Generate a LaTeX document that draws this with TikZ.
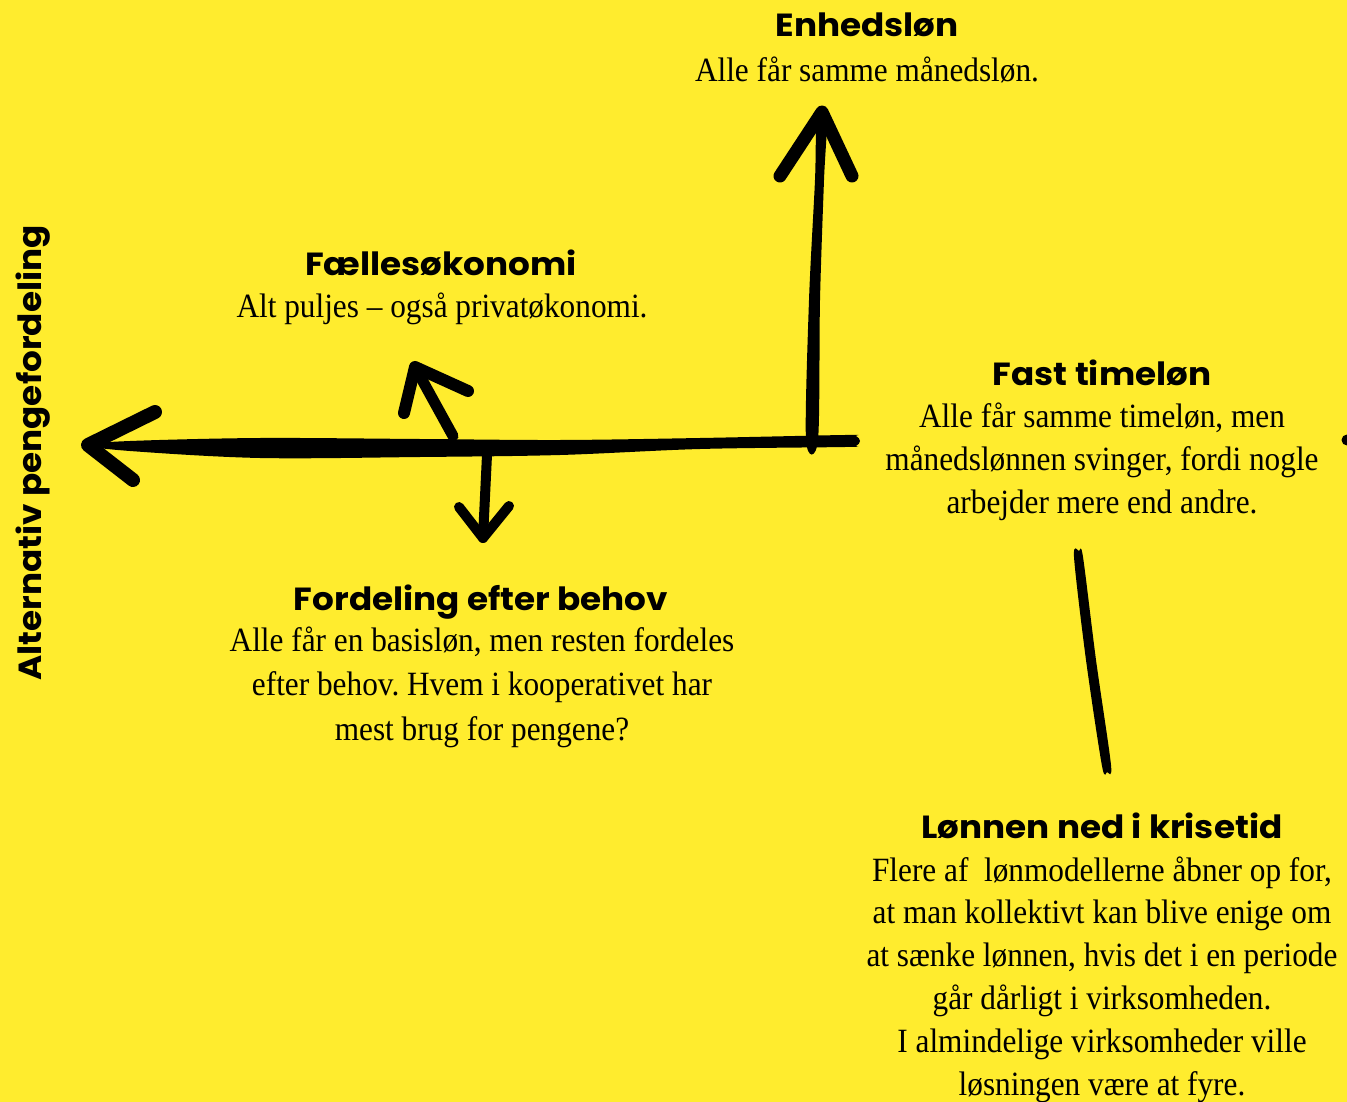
\documentclass[tikz,border=0pt]{standalone}
\usepackage{fontspec}
\newfontfamily\bodyfont{Liberation Serif}[FakeStretch=0.92]
\newfontfamily\headfont{Poppins}[FakeStretch=1.07]
\definecolor{bg}{RGB}{255,236,46}
\frenchspacing
\tikzset{
  head/.style={font=\headfont\bfseries\fontsize{32}{38}\selectfont, inner sep=0pt, anchor=base},
  body/.style={font=\bodyfont\fontsize{34}{42.8}\selectfont\frenchspacing, inner sep=0pt, anchor=base, align=center},
  brush/.style={line width=13pt, line cap=round, line join=round, black},
}
\begin{document}
\begin{tikzpicture}[x=1pt,y=-1pt]
\fill[bg] (0,0) rectangle (1347,1102);
\useasboundingbox (0,0) rectangle (1347,1102);

% texts (multi-line nodes are placed by the baseline of their last line)
\node[head] (h1) at (867,37) {Enhedsløn};
\node[body] (b1) at (867,82) {Alle får samme månedsløn.};
\node[head] (h2) at (441,276) {Fællesøkonomi};
\node[body] (b2) at (442,317) {Alt puljes – også privatøkonomi.};
\node[head] (h3) at (1102,385) {Fast timeløn};
\node[body] (b3) at (1102,513) {Alle får samme timeløn, men\\månedslønnen svinger, fordi nogle\\arbejder mere end andre.};
\node[head] (h4) at (481,610) {Fordeling efter behov};
\node[body, font=\bodyfont\fontsize{34}{44.5}\selectfont\frenchspacing] (b4) at (482,740) {Alle får en basisløn, men resten fordeles\\efter behov. Hvem i kooperativet har\\mest brug for pengene?};
\node[head] (h5) at (1102,838) {Lønnen ned i krisetid};
\node[body] (b5) at (1102,1095) {Flere af\ \ lønmodellerne åbner op for,\\at man kollektivt kan blive enige om\\at sænke lønnen, hvis det i en periode\\går dårligt i virksomheden.\\I almindelige virksomheder ville\\løsningen være at fyre.};
\node[head, font=\headfont\bfseries\fontsize{32}{38}\selectfont, anchor=center, rotate=90] (side) at (33,453) {Alternativ pengefordeling};

% coordinates of strokes
\coordinate (Ltip) at (88,445);
\coordinate (Rend) at (858,441);
\coordinate (Ubase) at (812,440);
\coordinate (Utip) at (822,112);
\coordinate (Dbase) at (487,455);
\coordinate (Dtip) at (483,538);
\coordinate (Fbase) at (453,436);
\coordinate (Ftip) at (415,367);

% main horizontal tapered stroke
\fill[black] plot[smooth cycle, tension=0.55] coordinates
  {(85,445) (130,441) (260,438) (420,439) (560,440) (700,438) (845,435) (856,436) (860,441) (856,446) (845,447) (700,449) (560,455) (420,457) (260,458) (130,451)};
% left arrow head
\draw[brush, line width=14pt] (155,412) -- (Ltip) -- (133,480);

% vertical arrow to Enhedsløn
\fill[black] plot[smooth cycle, tension=0.5] coordinates
  {(806,440) (809,300) (815,180) (817,114) (827,114) (824,180) (820,300) (818,440)};
\draw[brush, line width=13pt] (780,176) -- (Utip) -- (852,176);

% arrow to Fællesøkonomi
\draw[brush, line width=11pt] (Fbase) -- (Ftip);
\draw[brush, line width=12pt] (404,413) -- (Ftip) -- (468,391);

% arrow to Fordeling efter behov
\draw[brush, line width=10pt] (Dbase) -- (Dtip);
\draw[brush, line width=10pt] (459,507) -- (Dtip) -- (509,506);

% stroke toward Lønnen ned i krisetid
\fill[black] plot[smooth cycle, tension=0.5] coordinates
  {(1074,557) (1079,551) (1083,557) (1096,660) (1111,765) (1107,772) (1102,766) (1086,660)};

% cut-off mark at right edge
\fill[black] (1347,440) circle (5.5pt);
\end{tikzpicture}
\end{document}
